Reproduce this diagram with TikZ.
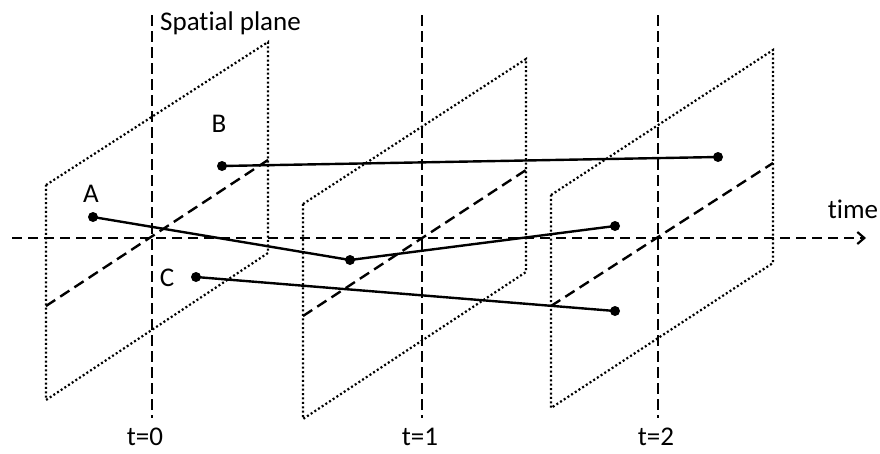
\documentclass[tikz,border=0pt]{standalone}
\usepackage{fontspec}
\setmainfont[Ligatures=NoCommon]{Carlito}
\usetikzlibrary{arrows.meta}
\begin{document}
\begin{tikzpicture}[x=1pt,y=-1pt,
  planeedge/.style={line width=2.2pt,dash pattern=on 2pt off 2.4pt},
  midline/.style={line width=2.4pt,dash pattern=on 11pt off 6pt},
  tline/.style={line width=2.4pt,dash pattern=on 11pt off 5pt},
  axisline/.style={line width=2.4pt,dash pattern=on 10pt off 6pt},
  traj/.style={line width=2.4pt},
  pt/.style={circle,fill=black,inner sep=0pt,minimum size=10pt},
  lbl/.style={font=\fontsize{27}{31}\selectfont,inner sep=0pt}]
\useasboundingbox (0,0) rectangle (880,453);
% vertical time lines
\coordinate (v0t) at (152,15); \coordinate (v0b) at (152,418);
\coordinate (v1t) at (422,15); \coordinate (v1b) at (422,418);
\coordinate (v2t) at (658,15); \coordinate (v2b) at (658,418);
\draw[tline] (v0t) -- (v0b);
\draw[tline] (v1t) -- (v1b);
\draw[tline] (v2t) -- (v2b);
% planes
\coordinate (p1a) at (46,185); \coordinate (p1b) at (268,42);
\coordinate (p1c) at (268,253); \coordinate (p1d) at (46,400);
\coordinate (p2a) at (303,204); \coordinate (p2b) at (526,59);
\coordinate (p2c) at (526,272); \coordinate (p2d) at (303,419);
\coordinate (p3a) at (551,195); \coordinate (p3b) at (773,50);
\coordinate (p3c) at (773,263); \coordinate (p3d) at (551,408);
\draw[planeedge] (p1a) -- (p1b) -- (p1c) -- (p1d) -- cycle;
\draw[planeedge] (p2a) -- (p2b) -- (p2c) -- (p2d) -- cycle;
\draw[planeedge] (p3a) -- (p3b) -- (p3c) -- (p3d) -- cycle;
% plane midlines
\coordinate (m1l) at (46,306); \coordinate (m1r) at (268,160);
\coordinate (m2l) at (303,316); \coordinate (m2r) at (526,170);
\coordinate (m3l) at (551,306); \coordinate (m3r) at (773,163);
\draw[midline] (m1l) -- (m1r);
\draw[midline] (m2l) -- (m2r);
\draw[midline] (m3l) -- (m3r);
% time axis
\coordinate (ax0) at (12,238); \coordinate (ax1) at (866,238);
\draw[axisline,-{Straight Barb[length=7pt,width=12pt,line width=2.2pt]}] (ax0) -- (ax1);
% points
\node[pt] (A0) at (93,217) {};
\node[pt] (A1) at (350,260) {};
\node[pt] (A2) at (615,226) {};
\node[pt] (B0) at (222,166) {};
\node[pt] (B1) at (718,157) {};
\node[pt] (C0) at (196,277) {};
\node[pt] (C1) at (615,311) {};
\draw[traj] (A0.center) -- (A1.center) -- (A2.center);
\draw[traj] (B0.center) -- (B1.center);
\draw[traj] (C0.center) -- (C1.center);
% labels
\node[lbl,anchor=base] (lA) at (91,202) {A};
\node[lbl,anchor=base] (lB) at (219,132) {B};
\node[lbl,anchor=base] (lC) at (167,286) {C};
\node[lbl,anchor=base west] (lsp) at (160,30) {Spatial plane};
\node[lbl,anchor=base] (ltime) at (853,218) {time};
\node[lbl,anchor=base] (lt0) at (145,445) {t=0};
\node[lbl,anchor=base] (lt1) at (420,445) {t=1};
\node[lbl,anchor=base] (lt2) at (656,445) {t=2};
\end{tikzpicture}
\end{document}
